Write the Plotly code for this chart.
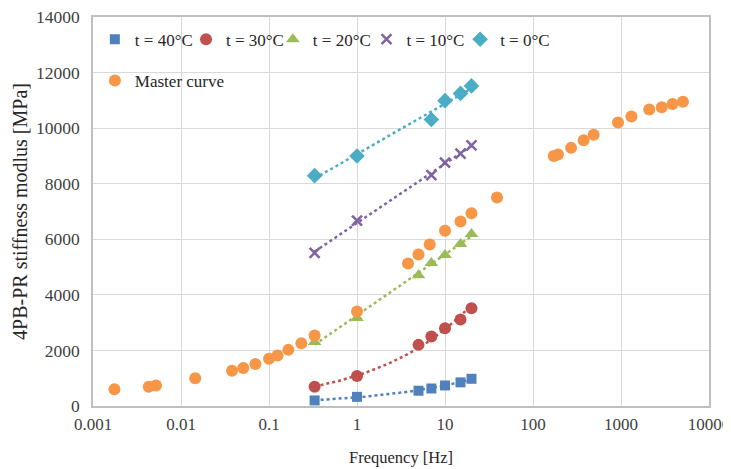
import numpy as np
import plotly.graph_objects as go

# ---- data ----
freq_full = [0.33, 1, 5, 7, 10, 15, 20]
freq_six = [0.33, 1, 7, 10, 15, 20]
e_40 = [200, 330, 550, 630, 740, 850, 980]
e_30 = [690, 1080, 2200, 2500, 2800, 3110, 3520]
e_20 = [2300, 3170, 4710, 5150, 5430, 5830, 6190]
e_10 = [5510, 6670, 8310, 8760, 9080, 9380]
e_0 = [8290, 9000, 10310, 10990, 11250, 11520]

master_freq = [0.00175, 0.0043, 0.0052, 0.0145, 0.038, 0.051, 0.07, 0.1, 0.125,
               0.166, 0.233, 0.33, 1, 3.8, 5, 6.7, 10, 15, 20, 39, 172, 192,
               271, 376, 489, 925, 1313, 2094, 2904, 3847, 5058]
master_e = [600, 690, 740, 1000, 1270, 1370, 1510, 1700, 1820, 2020, 2260, 2540,
            3400, 5130, 5450, 5810, 6310, 6640, 6940, 7500, 9000, 9050, 9290,
            9560, 9760, 10200, 10420, 10670, 10750, 10870, 10950]

x_tickvals = [0.001, 0.01, 0.1, 1, 10, 100, 1000, 10000]
x_ticktext = ["0.001", "0.01", "0.1", "1", "10", "100", "1000", "10000"]
y_tickvals = [0, 2000, 4000, 6000, 8000, 10000, 12000, 14000]
y_ticktext = ["0", "2000", "4000", "6000", "8000", "10000", "12000", "14000"]

series = [
    ("t = 40°C", freq_full, e_40, "#4F81BD", "square", 10, "power"),
    ("t = 30°C", freq_full, e_30, "#C0504D", "circle", 12, "power"),
    ("t = 20°C", freq_full, e_20, "#9BBB59", "triangle-up", 12, "log"),
    ("t = 10°C", freq_six, e_10, "#8064A2", "x-thin", 10, "log"),
    ("t = 0°C", freq_six, e_0, "#4BACC6", "diamond", 12, "log"),
]

FONT = "Liberation Serif, Times New Roman, serif"
fig = go.Figure()

# trendlines (fitted from the data)
for name, f, e, col, sym, sz, kind in series:
    lf = np.log(np.array(f, dtype=float))
    fs = np.exp(np.linspace(lf.min(), lf.max(), 60))
    if kind == "power":
        b, a = np.polyfit(lf, np.log(e), 1)
        ys = np.exp(a) * fs ** b
    else:
        b, a = np.polyfit(lf, np.array(e, dtype=float), 1)
        ys = a + b * np.log(fs)
    fig.add_trace(go.Scatter(x=fs, y=ys, mode="lines", showlegend=False,
                             hoverinfo="skip",
                             line=dict(color=col, width=2.5, dash="dot")))

legend_font = dict(family=FONT, size=17, color="#262626")
legend_x = [0.003, 0.151, 0.292, 0.444, 0.596]
legend_layouts = {}
for i, (name, f, e, col, sym, sz, kind) in enumerate(series):
    mk = dict(color=col, symbol=sym, size=sz)
    if sym == "x-thin":
        mk["line"] = dict(color=col, width=2.5)
    lname = "legend" if i == 0 else f"legend{i + 1}"
    fig.add_trace(go.Scatter(x=f, y=e, mode="markers", name=name, marker=mk,
                             legend=lname))
    legend_layouts[lname] = dict(x=legend_x[i], y=0.988, xanchor="left", yanchor="top",
                                 bgcolor="rgba(0,0,0,0)", font=legend_font,
                                 itemwidth=30)

fig.add_trace(go.Scatter(x=master_freq, y=master_e, mode="markers",
                         name="Master curve", legend="legend6",
                         marker=dict(color="#F79646", symbol="circle", size=12)))
legend_layouts["legend6"] = dict(x=0.003, y=0.882, xanchor="left", yanchor="top",
                                 bgcolor="rgba(0,0,0,0)", font=legend_font,
                                 itemwidth=30)

axis_common = dict(showgrid=True, gridcolor="#d9d9d9", gridwidth=1,
                   showline=True, linecolor="#bfbfbf", linewidth=1.5, mirror=True,
                   zeroline=False, automargin=False, ticklabeloverflow="allow")

fig.update_xaxes(type="log", range=[-3, 4.00001], tickmode="array",
                 tickvals=x_tickvals, ticktext=x_ticktext,
                 ticks="outside", ticklen=2, tickcolor="rgba(0,0,0,0)",
                 tickfont=dict(family=FONT, size=17, color="#404040"),
                 title=dict(text="Frequency [Hz]", font=dict(family=FONT, size=16.5, color="#262626"),
                            standoff=18),
                 **axis_common)
fig.update_yaxes(range=[0, 14000], tickmode="array", tickvals=y_tickvals,
                 ticktext=y_ticktext,
                 ticks="outside", ticklen=8, tickcolor="rgba(0,0,0,0)",
                 tickfont=dict(family=FONT, size=17.5, color="#404040"),
                 title=dict(text="4PB-PR stiffness modlus [MPa]",
                            font=dict(family=FONT, size=20, color="#262626"),
                            standoff=3),
                 **axis_common)

# the page body has an 8px margin, so the figure is sized to the visible window
fig.update_layout(
    width=723, height=461,
    margin=dict(l=85, r=22, t=9, b=63, autoexpand=False),
    paper_bgcolor="white", plot_bgcolor="white",
    **legend_layouts,
)

fig.write_html("out.html")
